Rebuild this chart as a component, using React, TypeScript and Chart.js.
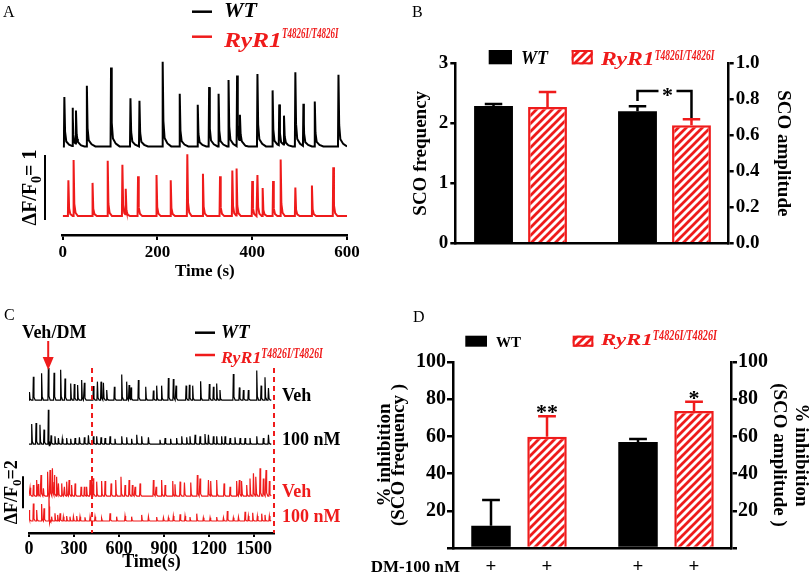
import React, { useEffect, useRef } from "react";
import { Chart, registerables } from "chart.js";

Chart.register(...registerables);

const SERIF = '"Liberation Serif", "Times New Roman", Times, serif';
const RED = "#ef1b1b";
const BLACK = "#000000";
const WT_LABEL = "WT";
const MUT_LABEL = "RyR1";
const MUT_SUP = "T4826I/T4826I";

/* ---------------- Panel A : SCO traces (ΔF/F0 vs time, s) ---------------- */
const aTimeTicks = [0, 200, 400, 600];
const aWtSpikeTimes = [3.5, 21, 28, 51, 102, 143, 162, 211, 247, 285, 309, 329, 350, 368, 374, 411, 443, 457, 467, 491, 508, 532, 582];
const aWtSpikeAmps = [0.76, 0.59, 0.51, 0.93, 1.21, 0.74, 0.7, 1.3, 0.81, 0.64, 0.91, 0.81, 1.02, 1.09, 0.4, 1.11, 0.86, 0.63, 0.45, 1.14, 0.65, 0.69, 1.1];
const aMutSpikeTimes = [12, 23, 63, 95, 126, 133, 159, 198, 228, 263, 296, 332, 358, 367, 400, 411, 422, 444, 460, 491, 526, 571];
const aMutSpikeAmps = [0.55, 0.86, 0.51, 0.85, 0.79, 0.4, 0.61, 0.63, 0.55, 0.95, 0.65, 0.61, 0.7, 0.73, 0.54, 0.63, 0.43, 0.54, 0.87, 0.44, 0.47, 0.75];
const aTraceOffsets = [1.07, 0]; // WT, RyR1 baselines (ΔF/F0 units)
const aYRange = [-0.29, 2.55];
const aScaleBar = [-0.06, 0.94]; // ΔF/F0 = 1

/* ---------------- Panel B : SCO frequency / amplitude ---------------- */
const bGroups = ["SCO frequency", "SCO amplitude"];
const bWtMeans = [2.29, 0.733];
const bWtErrors = [0.03, 0.028];
const bMutMeans = [2.27, 0.656];
const bMutErrors = [0.25, 0.033];
const bFreqTicks = [0, 1, 2, 3];
const bAmpTicks = [0, 0.2, 0.4, 0.6, 0.8, 1.0];
const bBracket = [0.846, 0.79, 0.696]; // top, left leg end, right leg end (amplitude axis)
const bSig = "*";

/* ---------------- Panel C : Veh / DM traces ---------------- */
const cTimeTicks = [0, 300, 600, 900, 1200, 1500];
const cAxisMax = 1633;
const cTraceEnd = 1615;
const cTreatmentTime = 128;
const cWindowTimes = [420, 1633];
const cRowLabels = ["Veh", "100 nM", "Veh", "100 nM"];
const cRowOffsets = [7.56, 4.81, 1.56, 0];
const cYRange = [-0.75, 9.75];
const cScaleBar = [0.8, 2.8]; // ΔF/F0 = 2
const cWtVehTimes = [3, 29, 84, 129, 167, 211, 240, 278, 302, 324, 351, 369, 429, 456, 480, 496, 518, 569, 618, 651, 667, 680, 729, 778, 829, 851, 884, 929, 962, 980, 1047, 1069, 1091, 1144, 1202, 1229, 1251, 1273, 1362, 1402, 1429, 1462, 1518, 1547, 1573, 1596];
const cWtVehAmps = [0.5, 1.46, 1.67, 2.0, 1.71, 1.9, 1.35, 1.04, 1.0, 0.94, 1.25, 1.08, 0.88, 1.15, 1.15, 1.08, 0.63, 0.83, 1.6, 1.15, 0.94, 0.79, 1.25, 0.83, 0.6, 0.9, 0.9, 1.37, 1.31, 0.9, 0.9, 0.96, 0.9, 1.17, 1.0, 0.83, 1.04, 0.63, 1.63, 0.79, 0.63, 0.63, 1.85, 0.9, 1.42, 0.75];
const cWtDmTimes = [18, 47, 73, 100, 129, 135, 147, 173, 196, 222, 251, 278, 307, 336, 369, 396, 429, 451, 480, 507, 540, 573, 618, 651, 684, 718, 751, 796, 873, 907, 944, 984, 1018, 1051, 1073, 1107, 1140, 1173, 1196, 1229, 1251, 1284, 1307, 1340, 1373, 1407, 1440, 1473, 1518, 1562, 1596];
const cWtDmAmps = [1.25, 1.31, 1.21, 0.9, 2.15, -0.3, 0.54, 0.48, 0.38, 0.33, 0.38, 0.33, 0.38, 0.42, 0.42, 0.54, 0.48, 0.48, 0.42, 0.38, 0.48, 0.33, 0.48, 0.42, 0.33, 0.58, 0.48, 0.42, 0.27, 0.38, 0.33, 0.38, 0.48, 0.42, 0.48, 0.58, 0.48, 0.63, 0.58, 0.48, 0.48, 0.48, 0.48, 0.38, 0.42, 0.38, 0.38, 0.38, 0.48, 0.38, 0.58];
const cMutVehTimes = [7, 29, 51, 62, 80, 96, 124, 140, 156, 169, 184, 196, 218, 236, 251, 267, 284, 307, 347, 369, 384, 407, 418, 429, 451, 484, 507, 547, 578, 613, 640, 667, 689, 707, 740, 829, 847, 884, 907, 958, 973, 1007, 1036, 1078, 1122, 1140, 1196, 1211, 1251, 1300, 1340, 1384, 1402, 1418, 1451, 1473, 1496, 1513, 1540, 1562, 1580, 1602];
const cMutVehAmps = [0.52, 0.69, 1.0, 0.73, 1.31, 0.48, 1.52, 1.63, 1.73, 1.31, 1.21, 0.79, 0.79, 0.58, 0.9, 1.0, 0.69, 0.79, 0.58, 0.58, 0.58, 1.0, 1.21, 1.1, 0.9, 0.94, 0.94, 0.79, 1.0, 1.21, 0.69, 1.0, 0.69, 0.58, 0.79, 1.0, 0.58, 1.0, 0.69, 0.94, 0.73, 0.9, 0.85, 0.85, 1.31, 1.1, 1.0, 0.94, 1.0, 0.79, 0.58, 0.94, 1.0, 0.94, 0.69, 1.1, 1.42, 1.21, 1.73, 1.1, 1.63, 0.94];
const cMutDmTimes = [2, 29, 51, 84, 100, 133, 138, 151, 173, 191, 207, 229, 251, 273, 296, 318, 340, 373, 407, 440, 484, 540, 584, 640, 684, 751, 796, 851, 896, 929, 962, 1007, 1040, 1073, 1118, 1162, 1207, 1251, 1296, 1322, 1362, 1396, 1440, 1462, 1491, 1522, 1551, 1573, 1602];
const cMutDmAmps = [0.69, 1.1, 0.69, 1.06, 0.79, 1.63, -0.3, 0.27, 0.48, 0.38, 0.48, 0.27, 0.31, 0.27, 0.27, 0.31, 0.27, 0.23, 0.27, 0.27, 0.17, 0.48, 0.27, 0.31, 0.27, 0.38, 0.27, 0.25, 0.21, 0.21, 0.31, 0.42, 0.31, 0.25, 0.46, 0.21, 0.21, 0.25, 0.21, 0.63, 0.21, 0.25, 0.58, 0.31, 0.52, 0.31, 0.46, 0.38, 0.31];

/* ---------------- Panel D : % inhibition by DM ---------------- */
const dGroups = ["SCO frequency", "SCO amplitude"];
const dWtMeans = [12.0, 57.0];
const dWtErrors = [13.8, 1.6];
const dMutMeans = [59.8, 73.6];
const dMutErrors = [11.1, 5.0];
const dMutSig = ["**", "*"];
const dTicks = [0, 20, 40, 60, 80, 100];
const dTreatmentLabel = "DM-100 nM";
const dTreatmentMarks = ["+", "+", "+", "+"];

/* ---------------- helpers ---------------- */
type Kernel = [number, number][];
const KERNEL_A_WT: Kernel = [[-1, 0], [0, 1], [1.5, 0.3], [4, 0.1], [10, 0.035], [18, 0]];
const KERNEL_A_MUT: Kernel = [[-1, 0], [0, 1], [1.5, 0.22], [4, 0.06], [9, 0]];
const KERNEL_C: Kernel = [[-3, 0], [0, 1], [4, 0.12], [12, 0]];

function kernelAt(k: Kernel, dt: number) {
  if (dt <= k[0][0] || dt >= k[k.length - 1][0]) return 0;
  for (let i = 0; i < k.length - 1; i++) {
    const [t0, v0] = k[i];
    const [t1, v1] = k[i + 1];
    if (dt >= t0 && dt <= t1) return v0 + ((v1 - v0) * (dt - t0)) / (t1 - t0);
  }
  return 0;
}

function buildTrace(times: number[], amps: number[], base: number, k: Kernel, tEnd: number) {
  const keys = new Set<number>([0, tEnd]);
  times.forEach((t) =>
    k.forEach(([dt]) => {
      const x = +(t + dt).toFixed(3);
      if (x > 0 && x < tEnd) keys.add(x);
    })
  );
  return [...keys]
    .sort((a, b) => a - b)
    .map((x) => ({ x, y: base + times.reduce((s, t, i) => s + amps[i] * kernelAt(k, x - t), 0) }));
}

type Run = { t: string; size: number; bold?: boolean; italic?: boolean; dy?: number; sx?: number };
function fontOf(r: Run) {
  return `${r.italic ? "italic " : ""}${r.bold === false ? "" : "bold "}${r.size}px ${SERIF}`;
}
function drawRuns(ctx: any, runs: Run[], x: number, y: number, color: string, align = "left") {
  const widths = runs.map((r) => {
    ctx.font = fontOf(r);
    return ctx.measureText(r.t).width * (r.sx ?? 1);
  });
  const total = widths.reduce((a, b) => a + b, 0);
  let cx = align === "center" ? x - total / 2 : align === "right" ? x - total : x;
  runs.forEach((r, i) => {
    ctx.save();
    ctx.fillStyle = color;
    ctx.textAlign = "left";
    ctx.textBaseline = "alphabetic";
    ctx.font = fontOf(r);
    ctx.translate(cx, y + (r.dy ?? 0));
    ctx.scale(r.sx ?? 1, 1);
    ctx.fillText(r.t, 0, 0);
    ctx.restore();
    cx += widths[i];
  });
}
function mutRuns(size: number, supSize: number, sx: number, supSx: number, supDy: number): Run[] {
  return [
    { t: MUT_LABEL, size, italic: true, sx },
    { t: MUT_SUP, size: supSize, italic: true, sx: supSx, dy: supDy },
  ];
}
function line(ctx: any, x0: number, y0: number, x1: number, y1: number, color: string, w: number, dash?: number[]) {
  ctx.save();
  ctx.strokeStyle = color;
  ctx.lineWidth = w;
  if (dash) ctx.setLineDash(dash);
  ctx.beginPath();
  ctx.moveTo(x0, y0);
  ctx.lineTo(x1, y1);
  ctx.stroke();
  ctx.restore();
}
function makeHatch(ctx: any) {
  const s = 8;
  const c = document.createElement("canvas");
  c.width = s;
  c.height = s;
  const g = c.getContext("2d")!;
  g.fillStyle = "#ffffff";
  g.fillRect(0, 0, s, s);
  g.strokeStyle = RED;
  g.lineWidth = 2.8;
  g.beginPath();
  for (const k of [0, s, 2 * s]) {
    g.moveTo(k - 2 * s, 2 * s);
    g.lineTo(k + s, -s);
  }
  g.stroke();
  return ctx.createPattern(c, "repeat");
}
function rangeOf(ticks: number[]) {
  return { min: ticks[0], max: ticks[ticks.length - 1], stepSize: ticks[1] - ticks[0] };
}
function baseOptions(): any {
  return {
    responsive: false,
    animation: false,
    devicePixelRatio: 1,
    events: [],
    plugins: { legend: { display: false }, tooltip: { enabled: false }, title: { display: false } },
  };
}
const axisFont = (size: number) => ({ family: SERIF, size, weight: "bold" });

const errorBarPlugin = {
  id: "errorBars",
  afterDatasetsDraw(chart: any) {
    const ctx = chart.ctx;
    chart.data.datasets.forEach((ds: any, i: number) => {
      if (!ds.errors) return;
      const meta = chart.getDatasetMeta(i);
      const yScale = chart.scales[ds.yAxisID];
      meta.data.forEach((el: any, j: number) => {
        const v = ds.data[j].y;
        const top = yScale.getPixelForValue(v + ds.errors[j]);
        const cap = el.width * 0.45;
        ctx.save();
        ctx.strokeStyle = ds.errColor;
        ctx.lineWidth = 2.5;
        ctx.beginPath();
        ctx.moveTo(el.x, el.y);
        ctx.lineTo(el.x, top);
        ctx.moveTo(el.x - cap / 2, top);
        ctx.lineTo(el.x + cap / 2, top);
        ctx.stroke();
        ctx.restore();
      });
    });
  },
};

/* ---------------- Panel A ---------------- */
function makeA(canvas: HTMLCanvasElement) {
  const tEnd = aTimeTicks[aTimeTicks.length - 1];
  const wt = buildTrace(aWtSpikeTimes, aWtSpikeAmps, aTraceOffsets[0], KERNEL_A_WT, tEnd);
  const mut = buildTrace(aMutSpikeTimes, aMutSpikeAmps, aTraceOffsets[1], KERNEL_A_MUT, tEnd);
  const plugin = {
    id: "panelA",
    afterDraw(chart: any) {
      const { ctx } = chart;
      const y = chart.scales.y;
      drawRuns(ctx, [{ t: "A", size: 16, bold: false }], 3, 16.7, BLACK);
      line(ctx, 192, 11.7, 212, 11.7, BLACK, 2.5);
      drawRuns(ctx, [{ t: WT_LABEL, size: 20, italic: true, sx: 1.1 }], 224, 16.5, BLACK);
      line(ctx, 192, 36.7, 212, 36.7, RED, 2.5);
      drawRuns(ctx, mutRuns(21, 15, 1.22, 0.6, -8.5), 224, 46.7, RED);
      const y0 = y.getPixelForValue(aScaleBar[0]);
      const y1 = y.getPixelForValue(aScaleBar[1]);
      line(ctx, 45, y0, 45, y1, BLACK, 2);
      ctx.save();
      ctx.translate(29, (y0 + y1) / 2);
      ctx.rotate(-Math.PI / 2);
      drawRuns(ctx, [{ t: "ΔF/F", size: 20 }, { t: "0", size: 14, dy: 5 }, { t: "= 1", size: 20 }], 0, 7, BLACK, "center");
      ctx.restore();
    },
  };
  return new Chart(canvas, {
    type: "line",
    data: {
      datasets: [
        { label: WT_LABEL, data: wt, borderColor: BLACK, borderWidth: 2, pointRadius: 0, tension: 0 },
        { label: MUT_LABEL, data: mut, borderColor: RED, borderWidth: 2, pointRadius: 0, tension: 0 },
      ],
    },
    options: {
      ...baseOptions(),
      layout: { padding: { left: 62.7, right: 59, top: 50, bottom: 0 } },
      scales: {
        x: {
          type: "linear",
          ...rangeOf(aTimeTicks),
          ticks: { stepSize: aTimeTicks[1] - aTimeTicks[0], font: axisFont(17), color: BLACK, padding: 2, maxRotation: 0, callback: (v: any) => String(v) },
          grid: { drawOnChartArea: false, drawTicks: true, tickLength: 5, lineWidth: 2, color: BLACK },
          border: { display: true, width: 2.5, color: BLACK },
          title: { display: true, text: "Time (s)", font: axisFont(17), color: BLACK, padding: { top: 0, bottom: 7.8 } },
          afterFit: (s: any) => {
            s.height = 55;
          },
        },
        y: { display: false, min: aYRange[0], max: aYRange[1] },
      },
    } as any,
    plugins: [plugin],
  });
}

/* ---------------- bar panel builder ---------------- */
function barDatasets(wtMeans: number[], wtErr: number[], mutMeans: number[], mutErr: number[], hatch: any) {
  const axes = ["y", "y1"];
  const out: any[] = [];
  wtMeans.forEach((_, g) => {
    out.push({
      label: WT_LABEL,
      stack: "wt",
      data: [{ x: g + 1, y: wtMeans[g] }],
      yAxisID: axes[g],
      backgroundColor: BLACK,
      borderWidth: 0,
      errors: [wtErr[g]],
      errColor: BLACK,
    });
    out.push({
      label: MUT_LABEL,
      stack: "mut",
      data: [{ x: g + 1, y: mutMeans[g] }],
      yAxisID: axes[g],
      backgroundColor: hatch,
      borderColor: RED,
      borderWidth: 2.5,
      errors: [mutErr[g]],
      errColor: RED,
    });
  });
  return out;
}

/* ---------------- Panel B ---------------- */
function makeB(canvas: HTMLCanvasElement) {
  const ctx0 = canvas.getContext("2d");
  const hatch = makeHatch(ctx0);
  const plugin = {
    id: "panelB",
    afterDraw(chart: any) {
      const { ctx } = chart;
      const y1 = chart.scales.y1;
      drawRuns(ctx, [{ t: "B", size: 16, bold: false }], 6, 16.7, BLACK);
      ctx.save();
      ctx.fillStyle = BLACK;
      ctx.fillRect(82.7, 50, 23.3, 14.3);
      ctx.fillStyle = hatch;
      ctx.fillRect(165.7, 50, 21, 14.3);
      ctx.strokeStyle = RED;
      ctx.lineWidth = 2;
      ctx.strokeRect(166.7, 51, 19, 12.3);
      ctx.restore();
      drawRuns(ctx, [{ t: WT_LABEL, size: 18, italic: true }], 115, 64, BLACK);
      drawRuns(ctx, mutRuns(19, 14, 1.25, 0.68, -5.5), 195, 65, RED);
      const wtEl = chart.getDatasetMeta(2).data[0];
      const mutEl = chart.getDatasetMeta(3).data[0];
      const yTop = y1.getPixelForValue(bBracket[0]);
      const yL = y1.getPixelForValue(bBracket[1]);
      const yR = y1.getPixelForValue(bBracket[2]);
      const mid = (wtEl.x + mutEl.x) / 2 + 3;
      ctx.save();
      ctx.strokeStyle = BLACK;
      ctx.lineWidth = 2.5;
      ctx.beginPath();
      ctx.moveTo(wtEl.x, yL);
      ctx.lineTo(wtEl.x, yTop);
      ctx.lineTo(mid - 9, yTop);
      ctx.moveTo(mid + 9, yTop);
      ctx.lineTo(mutEl.x, yTop);
      ctx.lineTo(mutEl.x, yR);
      ctx.stroke();
      ctx.restore();
      drawRuns(ctx, [{ t: bSig, size: 22 }], mid, yTop + 10.5, BLACK, "center");
    },
  };
  const tickCommon = { color: BLACK, padding: 2, font: axisFont(19) };
  const gridCommon = { drawOnChartArea: false, drawTicks: true, tickLength: 5, lineWidth: 2.5, color: BLACK };
  const borderCommon = { display: true, width: 2.5, color: BLACK };
  return new Chart(canvas, {
    type: "bar",
    data: { datasets: barDatasets(bWtMeans, bWtErrors, bMutMeans, bMutErrors, hatch) },
    options: {
      ...baseOptions(),
      datasets: { bar: { skipNull: true, categoryPercentage: 0.75, barPercentage: 0.72 } },
      layout: { padding: { left: 0, right: 0, top: 63.3, bottom: 0 } },
      scales: {
        x: {
          type: "linear",
          min: 0.547,
          max: 2.446,
          offset: false,
          stacked: false,
          ticks: { display: false, stepSize: 1, includeBounds: false },
          grid: { display: false },
          border: borderCommon,
          afterFit: (s: any) => {
            s.height = 46.7;
          },
        },
        y: {
          position: "left",
          stacked: false,
          ...rangeOf(bFreqTicks),
          ticks: { ...tickCommon, stepSize: bFreqTicks[1] - bFreqTicks[0] },
          grid: gridCommon,
          border: borderCommon,
          title: { display: true, text: bGroups[0], color: BLACK, font: { ...axisFont(19), lineHeight: 1.2 }, padding: { top: 3.6, bottom: 0 } },
          afterFit: (s: any) => {
            s.width = 49.3;
          },
        },
        y1: {
          position: "right",
          stacked: false,
          ...rangeOf(bAmpTicks),
          ticks: { ...tickCommon, stepSize: 0.2, callback: (v: any) => Number(v).toFixed(1) },
          grid: gridCommon,
          border: borderCommon,
          title: { display: true, text: bGroups[1], color: BLACK, font: { ...axisFont(19), lineHeight: 1.2 }, padding: { top: 17.6, bottom: 0 } },
          afterFit: (s: any) => {
            s.width = 83.3;
          },
        },
      },
    } as any,
    plugins: [errorBarPlugin, plugin],
  });
}

/* ---------------- Panel C ---------------- */
function makeC(canvas: HTMLCanvasElement) {
  const sets = [
    [cWtVehTimes, cWtVehAmps],
    [cWtDmTimes, cWtDmAmps],
    [cMutVehTimes, cMutVehAmps],
    [cMutDmTimes, cMutDmAmps],
  ];
  const colors = [BLACK, BLACK, RED, RED];
  const datasets = sets.map(([t, a], i) => ({
    label: cRowLabels[i],
    data: buildTrace(t, a, cRowOffsets[i], KERNEL_C, cTraceEnd),
    borderColor: colors[i],
    borderWidth: 1.2,
    pointRadius: 0,
    tension: 0,
  }));
  const plugin = {
    id: "panelC",
    afterDraw(chart: any) {
      const { ctx, chartArea } = chart;
      const x = chart.scales.x;
      const y = chart.scales.y;
      drawRuns(ctx, [{ t: "C", size: 16, bold: false }], 4, 30, BLACK);
      const ax = x.getPixelForValue(cTreatmentTime);
      drawRuns(ctx, [{ t: "Veh/DM", size: 18 }], ax + 6, 48.3, BLACK, "center");
      line(ctx, ax, 51, ax, 70, RED, 2);
      ctx.save();
      ctx.fillStyle = RED;
      ctx.beginPath();
      ctx.moveTo(ax - 5.5, 67);
      ctx.lineTo(ax + 5.5, 67);
      ctx.lineTo(ax, 80);
      ctx.closePath();
      ctx.fill();
      ctx.restore();
      line(ctx, 195, 42.7, 215, 42.7, BLACK, 2.5);
      drawRuns(ctx, [{ t: WT_LABEL, size: 19, italic: true }], 221, 48.3, BLACK);
      line(ctx, 195, 65, 215, 65, RED, 2.5);
      drawRuns(ctx, mutRuns(17, 14, 1.05, 0.7, -4.5), 221, 72.7, RED);
      cWindowTimes.forEach((t) => {
        const px = x.getPixelForValue(t);
        line(ctx, px, 78, px, chartArea.bottom, RED, 2, [5, 4]);
      });
      cRowLabels.forEach((lab, i) => drawRuns(ctx, [{ t: lab, size: 18 }], 282, y.getPixelForValue(cRowOffsets[i]) + 1, colors[i]));
      const y0 = y.getPixelForValue(cScaleBar[0]);
      const y1 = y.getPixelForValue(cScaleBar[1]);
      line(ctx, 23, y0, 23, y1, BLACK, 2);
      ctx.save();
      ctx.translate(11, (y0 + y1) / 2);
      ctx.rotate(-Math.PI / 2);
      drawRuns(ctx, [{ t: "ΔF/F", size: 18 }, { t: "0", size: 13, dy: 4 }, { t: "=2", size: 18 }], 0, 6, BLACK, "center");
      ctx.restore();
    },
  };
  return new Chart(canvas, {
    type: "line",
    data: { datasets },
    options: {
      ...baseOptions(),
      layout: { padding: { left: 29, right: 132, top: 75, bottom: 0 } },
      scales: {
        x: {
          type: "linear",
          min: cTimeTicks[0],
          max: cAxisMax,
          ticks: {
            stepSize: cTimeTicks[1] - cTimeTicks[0],
            includeBounds: false,
            font: axisFont(18),
            color: BLACK,
            padding: 2,
            maxRotation: 0,
            autoSkip: false,
            callback: (v: any) => String(v),
          },
          grid: { drawOnChartArea: false, drawTicks: true, tickLength: 4, lineWidth: 2, color: BLACK },
          border: { display: true, width: 2.5, color: BLACK },
          title: { display: true, text: "Time(s)", font: axisFont(18), color: BLACK, padding: { top: 0, bottom: 7 } },
          afterFit: (s: any) => {
            s.height = 47;
          },
        },
        y: { display: false, min: cYRange[0], max: cYRange[1] },
      },
    } as any,
    plugins: [plugin],
  });
}

/* ---------------- Panel D ---------------- */
function makeD(canvas: HTMLCanvasElement) {
  const ctx0 = canvas.getContext("2d");
  const hatch = makeHatch(ctx0);
  const plugin = {
    id: "panelD",
    afterDraw(chart: any) {
      const { ctx } = chart;
      drawRuns(ctx, [{ t: "D", size: 16, bold: false }], 53, 31.7, BLACK);
      ctx.save();
      ctx.fillStyle = BLACK;
      ctx.fillRect(105.3, 45.7, 21.7, 11);
      ctx.fillStyle = hatch;
      ctx.fillRect(212.7, 45.7, 20.6, 11);
      ctx.strokeStyle = RED;
      ctx.lineWidth = 2;
      ctx.strokeRect(213.7, 46.7, 18.6, 9);
      ctx.restore();
      drawRuns(ctx, [{ t: WT_LABEL, size: 15 }], 136, 56.7, BLACK);
      drawRuns(ctx, mutRuns(17, 14, 1.35, 0.73, -5), 241, 55, RED);
      [1, 3].forEach((di, g) => {
        const ds: any = chart.data.datasets[di];
        const el = chart.getDatasetMeta(di).data[0];
        const top = chart.scales[ds.yAxisID].getPixelForValue(ds.data[0].y + ds.errors[0]);
        drawRuns(ctx, [{ t: dMutSig[g], size: 22 }], el.x, top + 3, BLACK, "center");
      });
      drawRuns(ctx, [{ t: dTreatmentLabel, size: 17 }], 100, 282, BLACK, "right");
      [0, 1, 2, 3].forEach((di, i) => {
        const el = chart.getDatasetMeta(di).data[0];
        drawRuns(ctx, [{ t: dTreatmentMarks[i], size: 19 }], el.x, 282, BLACK, "center");
      });
    },
  };
  const tickCommon = { color: BLACK, padding: 1, font: axisFont(20), stepSize: dTicks[1] - dTicks[0], callback: (v: any) => (v === 0 ? "" : String(v)) };
  const gridCommon = { drawOnChartArea: false, drawTicks: true, tickLength: 6, lineWidth: 2.5, color: BLACK };
  const borderCommon = { display: true, width: 2.5, color: BLACK };
  return new Chart(canvas, {
    type: "bar",
    data: { datasets: barDatasets(dWtMeans, dWtErrors, dMutMeans, dMutErrors, hatch) },
    options: {
      ...baseOptions(),
      datasets: { bar: { skipNull: true, categoryPercentage: 0.762, barPercentage: 0.705 } },
      layout: { padding: { left: 0, right: 0, top: 72, bottom: 0 } },
      scales: {
        x: {
          type: "linear",
          min: 0.551,
          max: 2.442,
          offset: false,
          stacked: false,
          ticks: { display: false, stepSize: 1, includeBounds: false },
          grid: { display: false },
          border: borderCommon,
          afterFit: (s: any) => {
            s.height = 32;
          },
        },
        y: {
          position: "left",
          stacked: false,
          ...rangeOf(dTicks),
          ticks: tickCommon,
          grid: gridCommon,
          border: borderCommon,
          title: {
            display: true,
            text: ["% inhibition", "(" + dGroups[0] + " )"],
            color: BLACK,
            font: { ...axisFont(19), lineHeight: 0.75 },
            padding: { top: 18, bottom: 0 },
          },
          afterFit: (s: any) => {
            s.width = 93;
          },
        },
        y1: {
          position: "right",
          stacked: false,
          ...rangeOf(dTicks),
          ticks: tickCommon,
          grid: gridCommon,
          border: borderCommon,
          title: {
            display: true,
            text: ["% inhibition", "(" + dGroups[1] + " )"],
            color: BLACK,
            font: { ...axisFont(19), lineHeight: 1.15 },
            padding: { top: 0, bottom: 0 },
          },
          afterFit: (s: any) => {
            s.width = 81;
          },
        },
      },
    } as any,
    plugins: [errorBarPlugin, plugin],
  });
}

function ChartCanvas({ left, top, width, height, make }: { left: number; top: number; width: number; height: number; make: (c: HTMLCanvasElement) => any }) {
  const ref = useRef<HTMLCanvasElement>(null);
  useEffect(() => {
    const chart = make(ref.current!);
    return () => chart.destroy();
  }, []);
  return <canvas ref={ref} width={width} height={height} style={{ position: "absolute", left, top, width, height }} />;
}

export default function App() {
  return (
    <div style={{ position: "absolute", left: 0, top: 0, width: 812, height: 580, background: "#ffffff", overflow: "hidden" }}>
      <ChartCanvas left={0} top={0} width={406} height={290} make={makeA} />
      <ChartCanvas left={406} top={0} width={406} height={290} make={makeB} />
      <ChartCanvas left={0} top={290} width={406} height={290} make={makeC} />
      <ChartCanvas left={360} top={290} width={452} height={290} make={makeD} />
    </div>
  );
}
